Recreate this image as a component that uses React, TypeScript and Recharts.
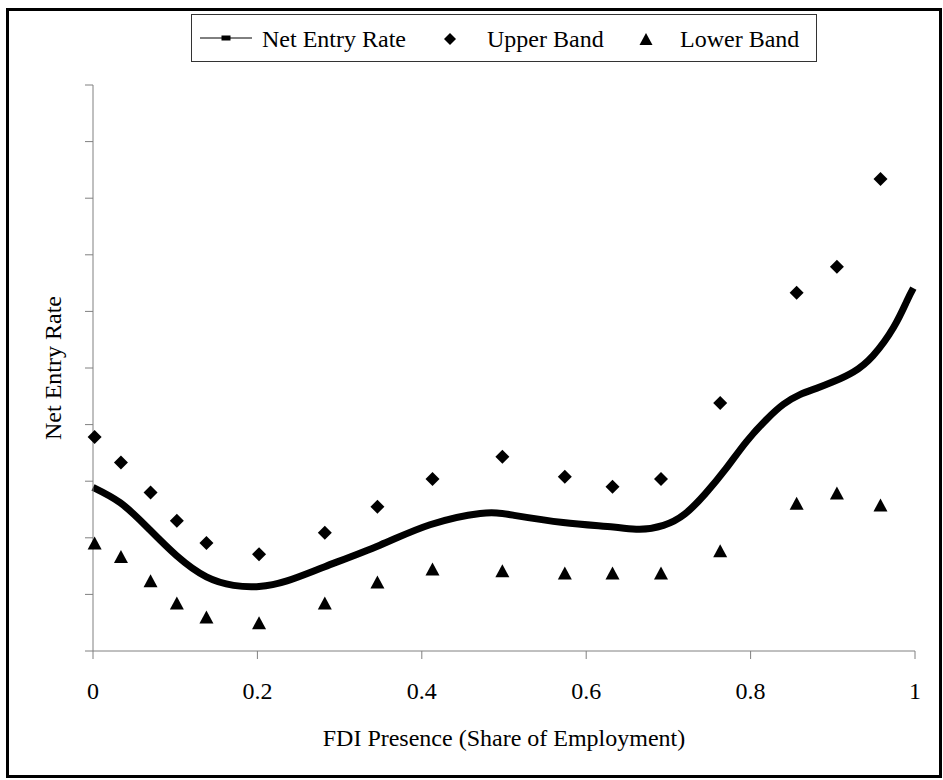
import React from 'react';
import {
  ComposedChart,
  Line,
  Scatter,
  XAxis,
  YAxis,
  Legend,
} from 'recharts';

// x positions of the band markers (share of employment)
const bandX = [0.002, 0.034, 0.07, 0.102, 0.138, 0.202, 0.282, 0.346, 0.413, 0.498, 0.574, 0.632, 0.691, 0.763, 0.856, 0.905, 0.958];
const upperBand = [3.78, 3.33, 2.8, 2.3, 1.91, 1.71, 2.09, 2.55, 3.04, 3.43, 3.08, 2.9, 3.04, 4.38, 6.33, 6.79, 8.34];
const lowerBand = [1.91, 1.67, 1.24, 0.85, 0.6, 0.5, 0.85, 1.22, 1.45, 1.42, 1.38, 1.38, 1.38, 1.77, 2.61, 2.79, 2.58];

// fitted net entry rate
const netX = [0, 0.033, 0.065, 0.102, 0.138, 0.171, 0.202, 0.236, 0.282, 0.349, 0.41, 0.471, 0.511, 0.572, 0.633, 0.665, 0.694, 0.72, 0.745, 0.77, 0.795, 0.82, 0.84, 0.86, 0.88, 0.901, 0.925, 0.949, 0.974, 0.99, 0.998];
const netRate = [2.89, 2.62, 2.2, 1.68, 1.31, 1.16, 1.14, 1.24, 1.49, 1.87, 2.23, 2.43, 2.4, 2.27, 2.19, 2.15, 2.22, 2.42, 2.78, 3.22, 3.7, 4.1, 4.36, 4.53, 4.64, 4.76, 4.93, 5.22, 5.72, 6.18, 6.41];

const xTicks = [0, 0.2, 0.4, 0.6, 0.8, 1];
const yTicks = [0, 1, 2, 3, 4, 5, 6, 7, 8, 9, 10];

const upperData = bandX.map((x, i) => ({ x, y: upperBand[i] }));
const lowerData = bandX.map((x, i) => ({ x, y: lowerBand[i] }));
const lineData = netX.map((x, i) => ({ x, y: netRate[i] }));

const FONT = '"Liberation Serif", "Times New Roman", serif';
const AXIS_GRAY = '#808080';

const Diamond = (props: any) => {
  const { cx, cy } = props;
  const r = 7;
  return <path d={`M${cx},${cy - r}L${cx + r},${cy}L${cx},${cy + r}L${cx - r},${cy}Z`} fill="#000" />;
};

const Triangle = (props: any) => {
  const { cx, cy } = props;
  const w = 7;
  const h = 6.5;
  return <path d={`M${cx},${cy - h}L${cx + w},${cy + h}L${cx - w},${cy + h}Z`} fill="#000" />;
};

const LegendBox = () => (
  <svg width={626} height={48} style={{ display: 'block' }}>
    <rect x={0.5} y={0.5} width={625} height={47} fill="#fff" stroke="#333" strokeWidth={1} />
    <line x1={9} x2={61} y1={24} y2={24} stroke="#000" strokeWidth={1} />
    <rect x={30.5} y={21.5} width={9} height={5} fill="#000" />
    <text x={71} y={33} fontFamily={FONT} fontSize={24} fill="#000">Net Entry Rate</text>
    <path d="M259,19L265,25L259,31L253,25Z" fill="#000" />
    <text x={296} y={33} fontFamily={FONT} fontSize={24} fill="#000">Upper Band</text>
    <path d="M455,19L461.5,31L448.5,31Z" fill="#000" />
    <text x={489} y={33} fontFamily={FONT} fontSize={24} fill="#000">Lower Band</text>
  </svg>
);

const App: React.FC = () => {
  return (
    <div style={{ position: 'absolute', left: 0, top: 0, width: 943, height: 780, background: '#fff' }}>
      <div
        style={{
          position: 'absolute',
          left: 6,
          top: 8,
          width: 936,
          height: 770,
          border: '3px solid #000',
          boxSizing: 'border-box',
        }}
      />
      <div style={{ position: 'absolute', left: 0, top: 0 }}>
        <ComposedChart
          width={943}
          height={780}
          margin={{ top: 85, right: 28, bottom: 29, left: 0 }}
          style={{ fontFamily: FONT }}
        >
          <XAxis
            dataKey="x"
            type="number"
            domain={[0, 1]}
            ticks={xTicks}
            height={100}
            stroke={AXIS_GRAY}
            tickSize={8}
            tickMargin={23}
            tick={{ fill: '#000', fontSize: 24, fontFamily: FONT }}
            tickFormatter={(v: number) => String(v)}
            label={{
              value: 'FDI Presence (Share of Employment)',
              position: 'insideBottom',
              offset: 5,
              fill: '#000',
              fontSize: 24,
              fontFamily: FONT,
            }}
          />
          <YAxis
            dataKey="y"
            type="number"
            domain={[0, 10]}
            ticks={yTicks}
            width={93}
            stroke={AXIS_GRAY}
            tickSize={8}
            tick={() => <g />}
            label={{
              value: 'Net Entry Rate',
              angle: -90,
              position: 'insideLeft',
              offset: 52,
              fill: '#000',
              fontSize: 24,
              fontFamily: FONT,
              style: { textAnchor: 'middle' },
            }}
          />
          <Legend
            layout="horizontal"
            verticalAlign="middle"
            align="center"
            wrapperStyle={{ left: 191, top: 14, width: 626, height: 48 }}
            content={() => <LegendBox />}
          />
          <Line
            data={lineData}
            dataKey="y"
            type="natural"
            stroke="#000"
            strokeWidth={7}
            dot={false}
            activeDot={false}
            isAnimationActive={false}
            name="Net Entry Rate"
          />
          <Scatter
            data={upperData}
            dataKey="y"
            shape={Diamond}
            isAnimationActive={false}
            name="Upper Band"
          />
          <Scatter
            data={lowerData}
            dataKey="y"
            shape={Triangle}
            isAnimationActive={false}
            name="Lower Band"
          />
        </ComposedChart>
      </div>
    </div>
  );
};

export default App;
